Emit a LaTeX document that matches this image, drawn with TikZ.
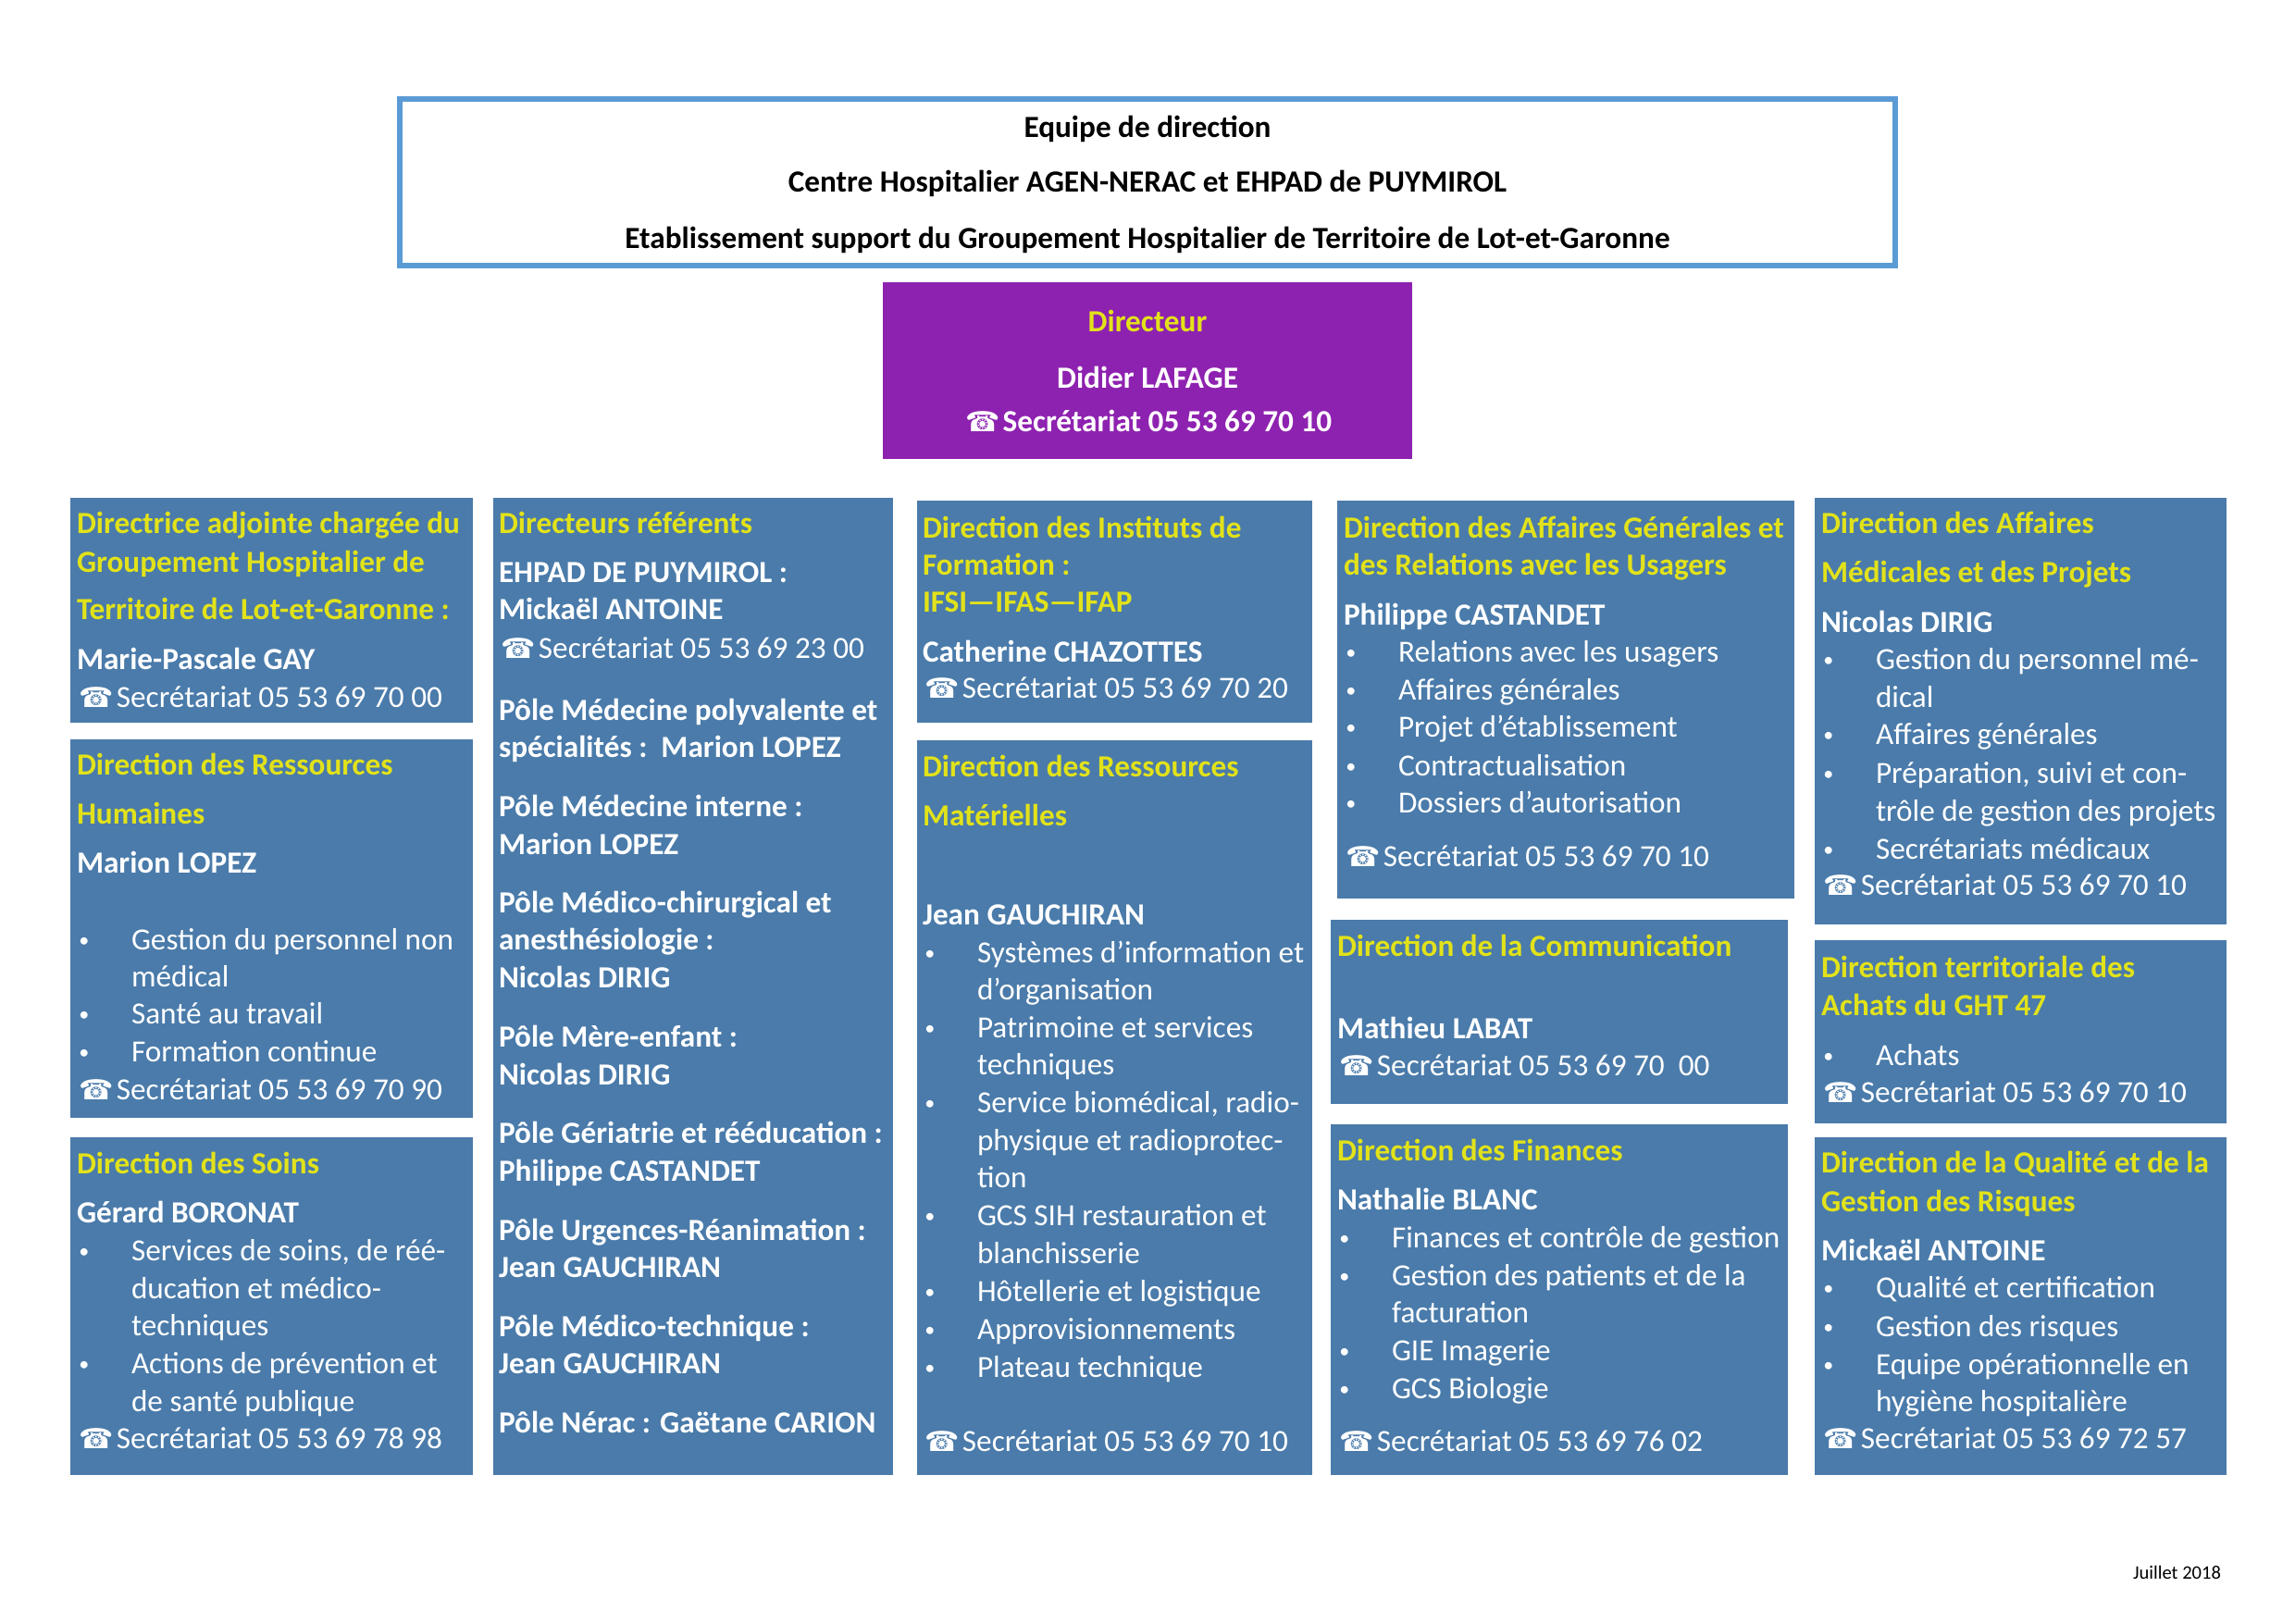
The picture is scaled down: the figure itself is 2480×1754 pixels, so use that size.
\documentclass[tikz,border=0pt]{standalone}
\usepackage{fontspec}
\setmainfont{Carlito}
\newfontfamily\phonefont{DejaVu Sans}
\definecolor{bxblue}{RGB}{74,123,170}
\definecolor{hdyel}{RGB}{226,226,26}
\definecolor{dirpurple}{RGB}{142,34,176}
\definecolor{hdrline}{RGB}{91,155,213}
\newcounter{lnc}
\newcommand\tx[4]{\stepcounter{lnc}\node[#1] (l\arabic{lnc}) at (#2,#3) {#4};}
\newcommand\phn{\makebox[14.6pt][l]{\hspace{0.8pt}{\phonefont\fontsize{10.2}{12}\selectfont ☎}}}
\newcommand\bul{\makebox[20.06pt][l]{\hspace{0.8pt}\raisebox{0.9pt}{\fontsize{7.5}{8}\selectfont •}}}
\newcommand\LnH[3]{\tx{hd}{#1}{#2}{#3}}
\newcommand\LnN[3]{\tx{nm}{#1}{#2}{#3}}
\newcommand\LnB[3]{\tx{rg}{#1}{#2}{\bul #3}}
\newcommand\LnC[3]{\tx{rg}{#1+59}{#2}{#3}}
\newcommand\LnP[3]{\tx{rg}{#1}{#2}{\phn Secrétariat #3}}
\newcommand\Bx[5]{\node[bx,minimum width=#4*0.34pt-#2*0.34pt,minimum height=#5*0.34pt-#3*0.34pt] (#1) at (#2,#3) {};}
\tikzset{
  bx/.style={fill=bxblue,draw=none,inner sep=0pt,outer sep=0pt,anchor=north west},
  rg/.style={inner sep=0pt,outer sep=0pt,anchor=base west,text=white,font=\fontsize{11.3}{13.6}\selectfont},
  nm/.style={rg,font=\fontsize{11.3}{13.6}\selectfont\bfseries},
  hd/.style={nm,text=hdyel},
  hdrtxt/.style={inner sep=0pt,outer sep=0pt,anchor=base,text=black,font=\fontsize{11.3}{13.6}\selectfont\bfseries},
  dirtxt/.style={hdrtxt,text=white},
  dirhd/.style={hdrtxt,text=hdyel},
  smalltxt/.style={inner sep=0pt,outer sep=0pt,anchor=base east,text=black,font=\fontsize{7}{8}\selectfont},
}
\begin{document}
\begin{tikzpicture}[x=0.34pt,y=-0.34pt]
\useasboundingbox (0,0) rectangle (2480,1754);
\fill[white] (0,0) rectangle (2480,1754);
% header
\node[draw=hdrline,line width=6*0.34pt,fill=white,inner sep=0pt,outer sep=0pt,anchor=north west,
  minimum width=1616*0.34pt,minimum height=180*0.34pt] (hdr) at (432,107) {};
\tx{hdrtxt}{1240}{148}{Equipe de direction}
\tx{hdrtxt}{1240}{207}{Centre Hospitalier AGEN-NERAC et EHPAD de PUYMIROL}
\tx{hdrtxt}{1240}{268}{Etablissement support du Groupement Hospitalier de Territoire de Lot-et-Garonne}
% director
\node[fill=dirpurple,inner sep=0pt,outer sep=0pt,anchor=north west,
  minimum width=572*0.34pt,minimum height=191*0.34pt] (dir) at (954,305) {};
\tx{dirhd}{1240}{358}{Directeur}
\tx{dirtxt}{1240}{419}{Didier LAFAGE}
\tx{dirtxt}{1240}{466}{\phn Secrétariat 05 53 69 70 10}
% column 1
\Bx{c1a}{76}{538}{511}{781}
\LnH{83}{576}{Directrice adjointe chargée du}
\LnH{83}{618}{Groupement Hospitalier de}
\LnH{83}{669}{Territoire de Lot-et-Garonne :}
\LnN{83}{723}{Marie-Pascale GAY}
\LnP{83}{764}{05 53 69 70 00}
\Bx{c1b}{76}{799}{511}{1208}
\LnH{83}{837}{Direction des Ressources}
\LnH{83}{890}{Humaines}
\LnN{83}{943}{Marion LOPEZ}
\LnB{83}{1026}{Gestion du personnel non}
\LnC{83}{1066}{médical}
\LnB{83}{1106}{Santé au travail}
\LnB{83}{1147}{Formation continue}
\LnP{83}{1188}{05 53 69 70 90}
\Bx{c1c}{76}{1229}{511}{1594}
\LnH{83}{1268}{Direction des Soins}
\LnN{83}{1321}{Gérard BORONAT}
\LnB{83}{1362}{Services de soins, de réé-}
\LnC{83}{1403}{ducation et médico-}
\LnC{83}{1443}{techniques}
\LnB{83}{1484}{Actions de prévention et}
\LnC{83}{1525}{de santé publique}
\LnP{83}{1565}{05 53 69 78 98}
% column 2
\Bx{c2a}{533}{538}{965}{1594}
\LnH{539}{576}{Directeurs référents}
\LnN{539}{629}{EHPAD DE PUYMIROL :}
\LnN{539}{669}{Mickaël ANTOINE}
\LnP{539}{711}{05 53 69 23 00}
\LnN{539}{778}{Pôle Médecine polyvalente et}
\LnN{539}{818}{spécialités :\ \ Marion LOPEZ}
\LnN{539}{882}{Pôle Médecine interne :}
\LnN{539}{923}{Marion LOPEZ}
\LnN{539}{986}{Pôle Médico-chirurgical et}
\LnN{539}{1026}{anesthésiologie :}
\LnN{539}{1067}{Nicolas DIRIG}
\LnN{539}{1131}{Pôle Mère-enfant :}
\LnN{539}{1172}{Nicolas DIRIG}
\LnN{539}{1235}{Pôle Gériatrie et rééducation :}
\LnN{539}{1276}{Philippe CASTANDET}
\LnN{539}{1340}{Pôle Urgences-Réanimation :}
\LnN{539}{1380}{Jean GAUCHIRAN}
\LnN{539}{1444}{Pôle Médico-technique :}
\LnN{539}{1484}{Jean GAUCHIRAN}
\LnN{539}{1548}{Pôle Nérac : Gaëtane CARION}
% column 3
\Bx{c3a}{991}{541}{1418}{781}
\LnH{997}{581}{Direction des Instituts de}
\LnH{997}{621}{Formation :}
\LnH{997}{661}{IFSI—IFAS—IFAP}
\LnN{997}{715}{Catherine CHAZOTTES}
\LnP{997}{754}{05 53 69 70 20}
\Bx{c3b}{991}{800}{1418}{1594}
\LnH{997}{839}{Direction des Ressources}
\LnH{997}{892}{Matérielles}
\LnN{997}{999}{Jean GAUCHIRAN}
\LnB{997}{1040}{Systèmes d’information et}
\LnC{997}{1080}{d’organisation}
\LnB{997}{1121}{Patrimoine et services}
\LnC{997}{1161}{techniques}
\LnB{997}{1202}{Service biomédical, radio-}
\LnC{997}{1243}{physique et radioprotec-}
\LnC{997}{1283}{tion}
\LnB{997}{1324}{GCS SIH restauration et}
\LnC{997}{1365}{blanchisserie}
\LnB{997}{1406}{Hôtellerie et logistique}
\LnB{997}{1447}{Approvisionnements}
\LnB{997}{1488}{Plateau technique}
\LnP{997}{1568}{05 53 69 70 10}
% column 4
\Bx{c4a}{1445}{541}{1939}{971}
\LnH{1452}{581}{Direction des Affaires Générales et}
\LnH{1452}{621}{des Relations avec les Usagers}
\LnN{1452}{675}{Philippe CASTANDET}
\LnB{1452}{715}{Relations avec les usagers}
\LnB{1452}{756}{Affaires générales}
\LnB{1452}{796}{Projet d’établissement}
\LnB{1452}{838}{Contractualisation}
\LnB{1452}{878}{Dossiers d’autorisation}
\LnP{1452}{936}{05 53 69 70 10}
\Bx{c4b}{1438}{994}{1932}{1193}
\LnH{1445}{1033}{Direction de la Communication}
\LnN{1445}{1122}{Mathieu LABAT}
\LnP{1445}{1162}{05 53 69 70\ \ 00}
\Bx{c4c}{1438}{1215}{1932}{1594}
\LnH{1445}{1254}{Direction des Finances}
\LnN{1445}{1307}{Nathalie BLANC}
\LnB{1445}{1348}{Finances et contrôle de gestion}
\LnB{1445}{1389}{Gestion des patients et de la}
\LnC{1445}{1429}{facturation}
\LnB{1445}{1470}{GIE Imagerie}
\LnB{1445}{1511}{GCS Biologie}
\LnP{1445}{1568}{05 53 69 76 02}
% column 5
\Bx{c5a}{1961}{538}{2406}{999}
\LnH{1968}{576}{Direction des Affaires}
\LnH{1968}{629}{Médicales et des Projets}
\LnN{1968}{683}{Nicolas DIRIG}
\LnB{1968}{723}{Gestion du personnel mé-}
\LnC{1968}{764}{dical}
\LnB{1968}{804}{Affaires générales}
\LnB{1968}{846}{Préparation, suivi et con-}
\LnC{1968}{887}{trôle de gestion des projets}
\LnB{1968}{928}{Secrétariats médicaux}
\LnP{1968}{967}{05 53 69 70 10}
\Bx{c5b}{1961}{1016}{2406}{1214}
\LnH{1968}{1056}{Direction territoriale des}
\LnH{1968}{1097}{Achats du GHT 47}
\LnB{1968}{1151}{Achats}
\LnP{1968}{1191}{05 53 69 70 10}
\Bx{c5c}{1961}{1229}{2406}{1594}
\LnH{1968}{1267}{Direction de la Qualité et de la}
\LnH{1968}{1309}{Gestion des Risques}
\LnN{1968}{1362}{Mickaël ANTOINE}
\LnB{1968}{1402}{Qualité et certification}
\LnB{1968}{1444}{Gestion des risques}
\LnB{1968}{1485}{Equipe opérationnelle en}
\LnC{1968}{1525}{hygiène hospitalière}
\LnP{1968}{1565}{05 53 69 72 57}
% date
\tx{smalltxt}{2400}{1706}{Juillet 2018}
\end{tikzpicture}
\end{document}
